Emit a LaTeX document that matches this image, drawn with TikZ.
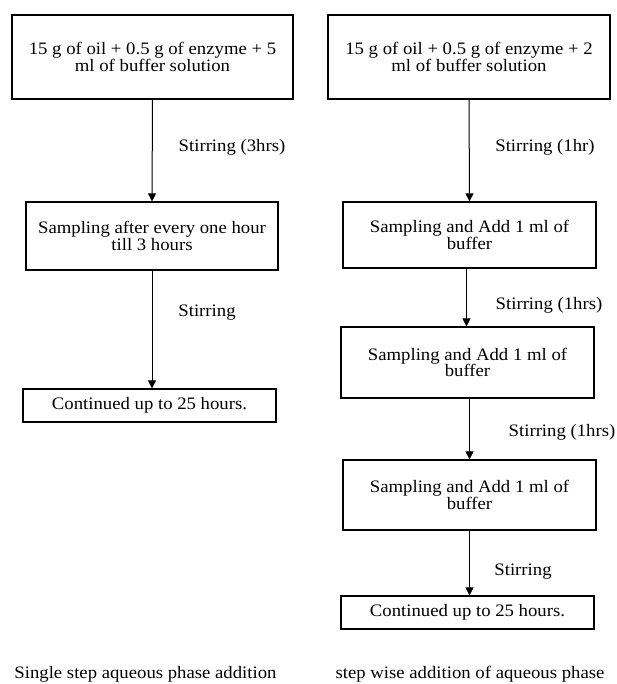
\documentclass[tikz,border=0pt]{standalone}
\usepackage{fontspec}
\setmainfont{Liberation Serif}[FakeStretch=1.07]
\usetikzlibrary{arrows.meta}

\begin{document}
\begin{tikzpicture}[x=1pt,y=-1pt,
  box/.style={draw,line width=1.2pt,align=center,inner sep=0pt,font=\fontsize{17.5}{16.5}\selectfont},
  lbl/.style={font=\fontsize{17.5}{16.5}\selectfont,inner sep=0pt},
  flow/.style={line width=1pt,-{Triangle[length=8pt,width=8pt]}}]
  \useasboundingbox (0,0) rectangle (617,684);

  % Left column: single step addition
  \node[box,minimum width=281pt,minimum height=84pt] (l1) at (152.5,57) {15 g of oil + 0.5 g of enzyme + 5\\ml of buffer solution};
  \node[box,minimum width=252pt,minimum height=68pt] (l2) at (152,236) {Sampling after every one hour\\till 3 hours};
  \node[box,minimum width=253pt,minimum height=33pt] (l3) at (149.5,405.5) {Continued up to 25 hours.};
  \draw[flow] (l1.south) -- (l2.north);
  \draw[flow] (l2.south) -- (l2.south |- l3.north);
  \node[lbl] (s1) at (232,147) {Stirring (3hrs)};
  \node[lbl] (s2) at (207,313) {Stirring};
  \node[lbl,anchor=base] (capl) at (145.5,678) {Single step aqueous phase addition};

  % Right column: step wise addition
  \node[box,minimum width=282pt,minimum height=84pt] (r1) at (469,57) {15 g of oil + 0.5 g of enzyme + 2\\ml of buffer solution};
  \node[box,minimum width=253pt,minimum height=66pt] (r2) at (469.5,235) {Sampling and Add 1 ml of\\buffer};
  \node[box,minimum width=253pt,minimum height=71pt] (r3) at (467.5,362.5) {Sampling and Add 1 ml of\\buffer};
  \node[box,minimum width=253pt,minimum height=70pt] (r4) at (469.5,495) {Sampling and Add 1 ml of\\buffer};
  \node[box,minimum width=253pt,minimum height=33pt] (r5) at (467.5,612.5) {Continued up to 25 hours.};
  \draw[flow] (r1.south) -- (r2.north);
  \draw[flow] ([xshift=-3pt]r2.south) -- ([xshift=-3pt]r2.south |- r3.north);
  \draw[flow] ([xshift=2pt]r3.south) -- ([xshift=2pt]r3.south |- r4.north);
  \draw[flow] (r4.south) -- (r4.south |- r5.north);
  \node[lbl] (s3) at (545,147) {Stirring (1hr)};
  \node[lbl] (s4) at (549,305) {Stirring (1hrs)};
  \node[lbl] (s5) at (562,432) {Stirring (1hrs)};
  \node[lbl] (s6) at (523,572) {Stirring};
  \node[lbl,anchor=base] (capr) at (470,678) {step wise addition of aqueous phase};
\end{tikzpicture}
\end{document}
